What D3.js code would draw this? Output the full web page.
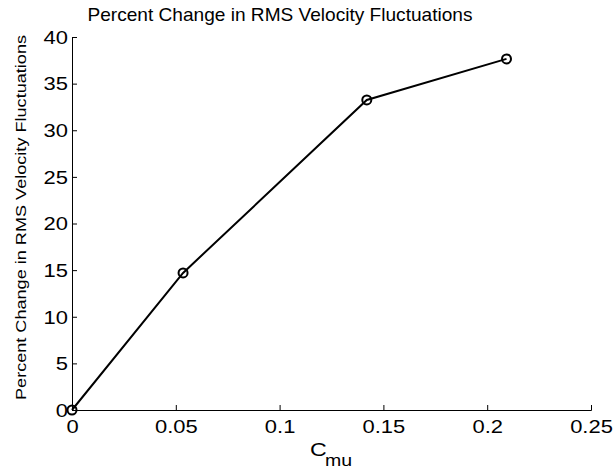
<!DOCTYPE html>
<html>
<head>
<meta charset="utf-8">
<script src="https://cdn.jsdelivr.net/npm/d3@7"></script>
<style>
  body { margin: 0; background: #fff; }
  text { font-family: "Liberation Sans", Arial, sans-serif; fill: #000; }
</style>
</head>
<body>
<div id="chart"></div>
<script>
// data
var cmu = [0, 0.0535, 0.142, 0.2093];
var pctChange = [0, 14.7, 33.25, 37.65];
var xTicks = [0, 0.05, 0.1, 0.15, 0.2, 0.25];
var yTicks = [0, 5, 10, 15, 20, 25, 30, 35, 40];

var svgWidth = 615;
var svgHeight = 471;
var margin = { top: 37, right: 24, bottom: 61, left: 72 };
var width = svgWidth - margin.left - margin.right;
var height = svgHeight - margin.top - margin.bottom;
var stretch = 1.22; // the reference text is wider than normal

var svg = d3.select("#chart")
  .append("svg")
  .attr("width", svgWidth)
  .attr("height", svgHeight);

var g = svg.append("g")
  .attr("transform", `translate(${margin.left}, ${margin.top})`);

var x = d3.scaleLinear().domain([0, 0.25]).range([0, width]);
var y = d3.scaleLinear().domain([0, 40]).range([height, 0]);

// axes, ticks pointing inward like matlab
var xAxis = g.append("g")
  .attr("transform", `translate(0, ${height})`)
  .call(d3.axisBottom(x).tickValues(xTicks).tickSize(-5).tickFormat(d => String(d)));
var yAxis = g.append("g")
  .call(d3.axisLeft(y).tickValues(yTicks).tickSize(-5).tickFormat(d => String(d)));

[xAxis, yAxis].forEach(function(a) {
  a.select(".domain").attr("stroke", "#000").attr("stroke-width", 1);
  a.selectAll(".tick line").attr("stroke", "#000");
  a.selectAll("text").attr("font-size", 18).attr("font-family", "Liberation Sans, Arial, sans-serif");
});
xAxis.selectAll("text")
  .attr("y", 0).attr("dy", 0)
  .attr("transform", `translate(0, 23) scale(${stretch}, 1)`);
yAxis.selectAll("text")
  .attr("x", 0).attr("dy", "0.35em")
  .attr("transform", `translate(-4, 0) scale(${stretch}, 1)`);

var pts = cmu.map((c, i) => [c, pctChange[i]]);

g.append("path")
  .datum(pts)
  .attr("fill", "none")
  .attr("stroke", "#000")
  .attr("stroke-width", 2)
  .attr("d", d3.line().x(d => x(d[0])).y(d => y(d[1])));

g.selectAll("circle")
  .data(pts)
  .enter()
  .append("circle")
  .attr("cx", d => x(d[0]))
  .attr("cy", d => y(d[1]))
  .attr("r", 4.5)
  .attr("fill", "none")
  .attr("stroke", "#000")
  .attr("stroke-width", 2);

// title and labels
svg.append("text")
  .attr("x", 280)
  .attr("y", 21)
  .attr("text-anchor", "middle")
  .attr("font-size", 18.5)
  .attr("textLength", 385)
  .attr("lengthAdjust", "spacingAndGlyphs")
  .text("Percent Change in RMS Velocity Fluctuations");

var xl = svg.append("g")
  .attr("transform", `translate(310, 456) scale(${stretch}, 1)`);
xl.append("text")
  .attr("font-size", 19)
  .text("C");
xl.append("text")
  .attr("x", 12.3)
  .attr("y", 10)
  .attr("font-size", 16)
  .text("mu");

svg.append("text")
  .attr("transform", "rotate(-90)")
  .attr("x", -217.5)
  .attr("y", 26)
  .attr("text-anchor", "middle")
  .attr("font-size", 14)
  .attr("textLength", 365)
  .attr("lengthAdjust", "spacingAndGlyphs")
  .text("Percent Change in RMS Velocity Fluctuations");
</script>
</body>
</html>
